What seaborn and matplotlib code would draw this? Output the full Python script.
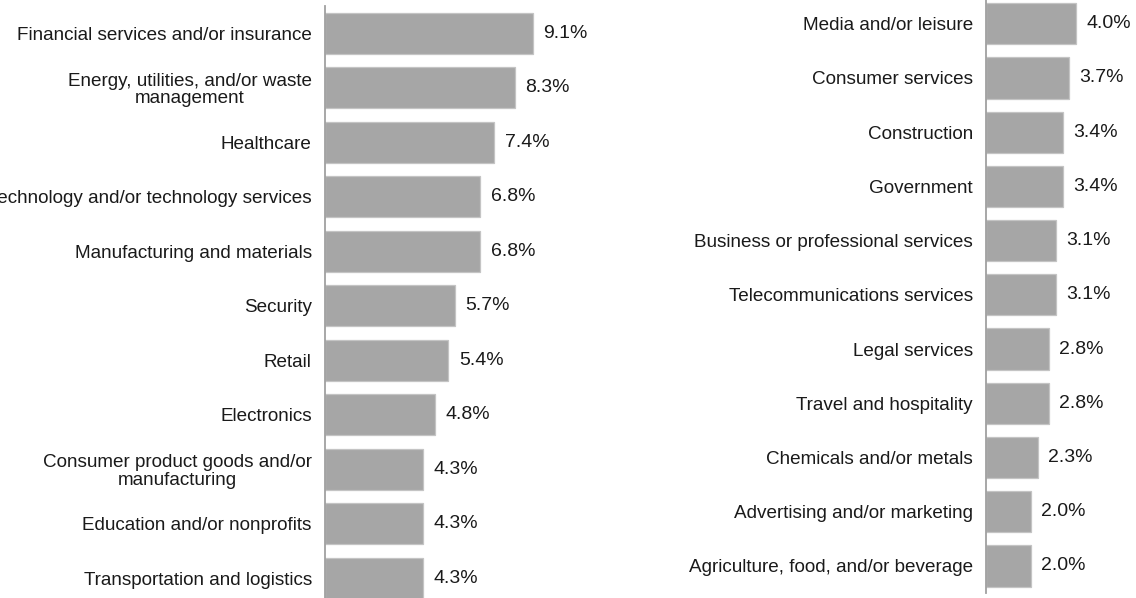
import matplotlib
matplotlib.use("Agg")
import matplotlib.pyplot as plt
import seaborn as sns
import pandas as pd

# Industry shares, split across two panels
left_industries = [
    "Financial services and/or insurance",
    "Energy, utilities, and/or waste\nmanagement",
    "Healthcare",
    "Technology and/or technology services",
    "Manufacturing and materials",
    "Security",
    "Retail",
    "Electronics",
    "Consumer product goods and/or\nmanufacturing",
    "Education and/or nonprofits",
    "Transportation and logistics",
]
left_share = [9.1, 8.3, 7.4, 6.8, 6.8, 5.7, 5.4, 4.8, 4.3, 4.3, 4.3]

right_industries = [
    "Media and/or leisure",
    "Consumer services",
    "Construction",
    "Government",
    "Business or professional services",
    "Telecommunications services",
    "Legal services",
    "Travel and hospitality",
    "Chemicals and/or metals",
    "Advertising and/or marketing",
    "Agriculture, food, and/or beverage",
]
right_share = [4.0, 3.7, 3.4, 3.4, 3.1, 3.1, 2.8, 2.8, 2.3, 2.0, 2.0]

sns.set_theme(style="white")
plt.rcParams["font.family"] = ["Liberation Sans", "DejaVu Sans"]

W, H = 1136, 598
fig = plt.figure(figsize=(W / 100, H / 100), dpi=100)

BAR = "#a6a6a6"
EDGE = "#c4c4c4"
SPINE = "#a0a0a0"
TEXT = "#1a1a1a"


def panel(rect, names, values, xmax):
    ax = fig.add_axes(rect)
    df = pd.DataFrame({"industry": names, "share": values})
    sns.barplot(data=df, x="share", y="industry", orient="h", ax=ax,
                color=BAR, saturation=1, width=0.76,
                edgecolor=EDGE, linewidth=0.9)
    ax.set_xlim(0, xmax)
    ax.set_ylim(len(names) - 0.5, -0.5)
    ax.set_xlabel("")
    ax.set_ylabel("")
    ax.set_xticks([])
    for side in ("top", "right", "bottom"):
        ax.spines[side].set_visible(False)
    ax.spines["left"].set_color(SPINE)
    ax.spines["left"].set_linewidth(1.3)
    ax.tick_params(axis="y", length=0, pad=9.5, labelsize=13.6, colors=TEXT)
    for lbl in ax.get_yticklabels():
        lbl.set_multialignment("center")
        lbl.set_linespacing(1.05)
    ax.bar_label(ax.containers[0], labels=[f"{v:.1f}%" for v in values],
                 padding=7.5, fontsize=14, color=TEXT)
    return ax


panel([325 / W, 1 - 605.5 / H, 228.6 / W, 599.5 / H],
      left_industries, left_share, 10)
panel([986 / W, 1 - 593.1 / H, 112.5 / W, 596.5 / H],
      right_industries, right_share, 5)

fig.savefig("out.png", dpi=100, facecolor="white")
